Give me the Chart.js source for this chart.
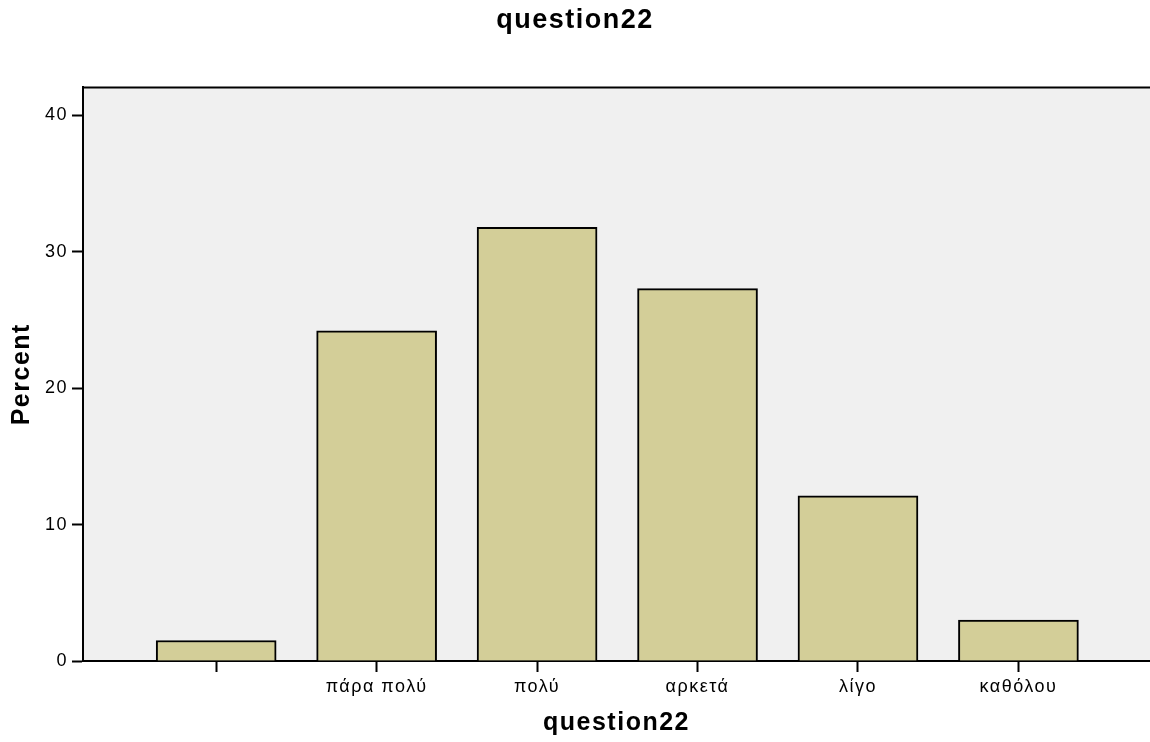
<!DOCTYPE html>
<html>
<head>
<meta charset="utf-8">
<title>question22</title>
<script src="https://cdn.jsdelivr.net/npm/chart.js@4.4.0/dist/chart.umd.min.js"></script>
<style>
    html, body { margin: 0; padding: 0; background: #ffffff; }
    #wrap { width: 1150px; height: 742px; }
</style>
</head>
<body>
<div id="wrap"><canvas id="barChart" width="1150" height="742"></canvas></div>
<script>
// Data
const CATEGORIES = ['', 'πάρα πολύ', 'πολύ', 'αρκετά', 'λίγο', 'καθόλου'];
const PERCENTS = [1.5, 24.2, 31.8, 27.3, 12.1, 3.0];
const Y_TICKS = [0, 10, 20, 30, 40];

const FONT = "'Liberation Sans', Arial, sans-serif";

// Grey plot background plus the top frame line
const plotFrame = {
    id: 'plotFrame',
    beforeDraw(chart) {
        const { ctx, chartArea: a } = chart;
        ctx.letterSpacing = '1.5px';
        ctx.save();
        ctx.fillStyle = '#ffffff';
        ctx.fillRect(0, 0, chart.width, chart.height);
        ctx.fillStyle = '#f0f0f0';
        ctx.fillRect(a.left, a.top, a.right - a.left, a.bottom - a.top);
        ctx.strokeStyle = '#000000';
        ctx.lineWidth = 2;
        ctx.beginPath();
        ctx.moveTo(a.left, a.top);
        ctx.lineTo(a.right, a.top);
        ctx.stroke();
        ctx.restore();
    }
};

new Chart(document.getElementById('barChart'), {
    type: 'bar',
    data: {
        datasets: [{
            label: 'Percent',
            data: PERCENTS.map((v, i) => ({ x: i, y: v })),
            backgroundColor: '#d3ce98',
            borderColor: '#000000',
            borderWidth: 2,
            barThickness: 120
        }]
    },
    options: {
        responsive: false,
        animation: false,
        layout: { padding: 0 },
        plugins: {
            legend: { display: false },
            tooltip: { enabled: false },
            title: {
                display: true,
                text: 'question22',
                color: '#000000',
                font: { family: FONT, size: 27, weight: 'bold' },
                padding: { top: 4, bottom: 51 }
            }
        },
        scales: {
            x: {
                type: 'linear',
                offset: false,
                min: -0.83,
                max: 5.82,
                afterBuildTicks: (scale) => {
                    scale.ticks = CATEGORIES.map((_, i) => ({ value: i }));
                },
                afterFit: (scale) => { scale.height = 81; },
                ticks: {
                    color: '#000000',
                    font: { family: FONT, size: 18 },
                    padding: 4,
                    maxRotation: 0,
                    autoSkip: false,
                    callback: (value) => CATEGORIES[value] ?? ''
                },
                grid: {
                    offset: false,
                    drawOnChartArea: false,
                    drawTicks: true,
                    tickLength: 11,
                    tickColor: '#000000',
                    tickWidth: 2
                },
                border: { display: true, color: '#000000', width: 2 },
                title: {
                    display: true,
                    text: 'question22',
                    color: '#000000',
                    font: { family: FONT, size: 25, weight: 'bold' },
                    padding: { top: 0, bottom: 4 }
                }
            },
            y: {
                min: 0,
                max: 42.05,
                afterBuildTicks: (scale) => {
                    scale.ticks = Y_TICKS.map(v => ({ value: v }));
                },
                afterFit: (scale) => { scale.width = 83; },
                ticks: {
                    color: '#000000',
                    font: { family: FONT, size: 18 },
                    padding: 4
                },
                grid: {
                    drawOnChartArea: false,
                    drawTicks: true,
                    tickLength: 11,
                    tickColor: '#000000',
                    tickWidth: 2
                },
                border: { display: true, color: '#000000', width: 2 },
                title: {
                    display: true,
                    text: 'Percent',
                    color: '#000000',
                    font: { family: FONT, size: 25, weight: 'bold' },
                    padding: { top: 7, bottom: 0 }
                }
            }
        }
    },
    plugins: [plotFrame]
});
</script>
</body>
</html>
